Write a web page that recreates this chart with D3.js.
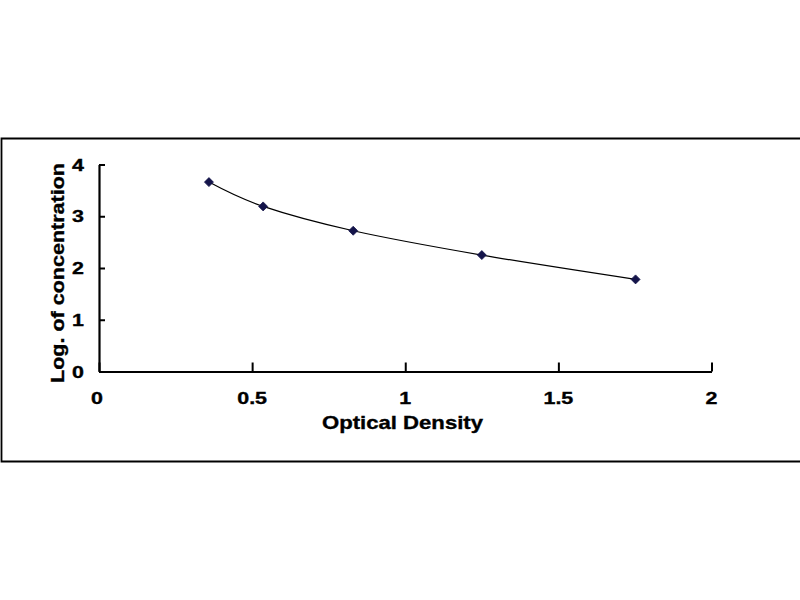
<!DOCTYPE html>
<html>
<head>
<meta charset="utf-8">
<script src="https://cdn.jsdelivr.net/npm/d3@7"></script>
<style>
  body { margin: 0; background: #fff; }
  text { font-family: "Liberation Sans", Arial, sans-serif; font-weight: bold; fill: #000; stroke: #000; stroke-width: 0.35px; }
</style>
</head>
<body>
<div id="chart"></div>
<script>
// standard curve points
var od_values = [0.359, 0.536, 0.830, 1.250, 1.752];
var log_conc = [3.66, 3.19, 2.72, 2.25, 1.78];
var x_ticks = [0, 0.5, 1, 1.5, 2];
var x_tick_labels = ["0", "0.5", "1", "1.5", "2"];
var y_ticks = [0, 1, 2, 3, 4];
var y_tick_labels = ["0", "1", "2", "3", "4"];

var width = 800, height = 600;
var svg = d3.select("#chart").append("svg")
    .attr("width", width)
    .attr("height", height);

// outer frame
svg.append("path")
    .attr("d", "M801,138.5 H1.5 V461.5 H801")
    .attr("fill", "none")
    .attr("stroke", "#000")
    .attr("stroke-width", 1.8);

var x = d3.scaleLinear().domain([0, 2]).range([99, 711.5]);
var y = d3.scaleLinear().domain([0, 4]).range([371.5, 164.5]);

// x axis, ticks pointing up into the plot
var xAxis = svg.append("g")
    .attr("transform", "translate(0," + y(0) + ")")
    .call(d3.axisBottom(x).tickValues(x_ticks).tickSizeInner(-9).tickSizeOuter(0).tickFormat(""));
xAxis.select(".domain").attr("stroke-width", 2.2);
xAxis.selectAll(".tick line").attr("stroke-width", 2);

// y axis, ticks pointing right
var yAxis = svg.append("g")
    .attr("transform", "translate(" + x(0) + ",0)")
    .call(d3.axisLeft(y).tickValues(y_ticks).tickSizeInner(-6).tickSizeOuter(0).tickFormat(""));
yAxis.select(".domain").attr("stroke-width", 2.2);
yAxis.selectAll(".tick line").attr("stroke-width", 2);

// tick labels (glyphs a bit stretched like the original)
svg.selectAll(".xlab")
    .data(x_ticks)
    .enter()
    .append("text")
    .attr("class", "xlab")
    .attr("text-anchor", "middle")
    .attr("font-size", 16.5)
    .attr("transform", (d, i) => "translate(" + (x(d) - (i == 0 ? 2 : 0)) + ",403.5) scale(1.3,1)")
    .text((d, i) => x_tick_labels[i]);

svg.selectAll(".ylab")
    .data(y_ticks)
    .enter()
    .append("text")
    .attr("class", "ylab")
    .attr("text-anchor", "end")
    .attr("font-size", 16.5)
    .attr("transform", d => "translate(84," + (y(d) + 6) + ") scale(1.3,1)")
    .text((d, i) => y_tick_labels[i]);

// axis titles
svg.append("text")
    .attr("x", 322)
    .attr("y", 429)
    .attr("font-size", 18.5)
    .attr("textLength", 161)
    .attr("lengthAdjust", "spacingAndGlyphs")
    .text("Optical Density");

svg.append("text")
    .attr("transform", "translate(63.5,383) rotate(-90)")
    .attr("font-size", 18.5)
    .attr("textLength", 220)
    .attr("lengthAdjust", "spacingAndGlyphs")
    .text("Log. of concentration");

// smoothed fit line
var points = od_values.map((v, i) => [v, log_conc[i]]);
var line = d3.line()
    .x(d => x(d[0]))
    .y(d => y(d[1]))
    .curve(d3.curveCardinal);

svg.append("path")
    .datum(points)
    .attr("d", line)
    .attr("fill", "none")
    .attr("stroke", "#000")
    .attr("stroke-width", 1.2);

// diamond markers
svg.selectAll(".marker")
    .data(points)
    .enter()
    .append("path")
    .attr("class", "marker")
    .attr("d", "M0,-4.5 L4.5,0 L0,4.5 L-4.5,0 Z")
    .attr("transform", d => "translate(" + x(d[0]) + "," + y(d[1]) + ")")
    .attr("fill", "#14144a")
    .attr("stroke", "#14144a")
    .attr("stroke-width", 0.8);
</script>
</body>
</html>
